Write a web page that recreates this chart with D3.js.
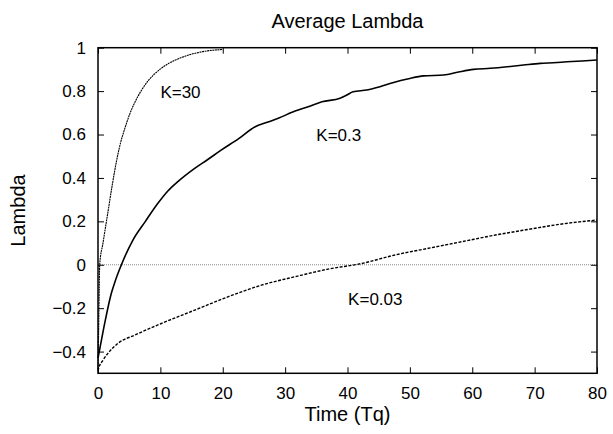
<!DOCTYPE html>
<html>
<head>
<meta charset="utf-8">
<script src="https://cdn.jsdelivr.net/npm/d3@7"></script>
<style>
  body { margin: 0; background: #fff; }
  text { font-family: "Liberation Sans", Arial, sans-serif; fill: #000; }
</style>
</head>
<body>
<svg id="chart"></svg>
<script>
// ---------------- data ----------------
const xTicks = [0, 10, 20, 30, 40, 50, 60, 70, 80];
const yTicks = [-0.4, -0.2, 0, 0.2, 0.4, 0.6, 0.8, 1];

// K=30 (fine dotted)
const k30_t = [0, 0.1, 0.2, 0.27, 0.8, 1.6, 2.3, 2.95, 3.6, 4.3, 5.1, 5.9, 7.0, 8.0, 9.1, 10.2, 11.3, 12.3, 13.5, 14.7, 16.0, 17.4, 18.7, 20];
const k30_l = [-0.48, -0.3, -0.1, 0, 0.1, 0.244, 0.37, 0.475, 0.56, 0.628, 0.695, 0.748, 0.805, 0.846, 0.88, 0.906, 0.927, 0.942, 0.956, 0.968, 0.977, 0.985, 0.989, 0.992];

// K=0.3 (solid)
const k03_t = [0, 0.27, 1.07, 2.15, 2.7, 3.75, 5.6, 7.6, 9.6, 11.2, 12.8, 15.5, 17.6, 19.8, 22.5, 25.2, 27.0, 28.9, 31.6, 33.7, 35.9, 38.8, 39.9, 40.9, 43.1, 45.2, 47.4, 49.8, 52.2, 55.4, 57.8, 60.2, 62.9, 65.6, 68.2, 70.9, 73.0, 75.2, 77.6, 80];
const k03_l = [-0.43, -0.39, -0.27, -0.13, -0.08, 0, 0.114, 0.2, 0.283, 0.34, 0.383, 0.444, 0.485, 0.529, 0.58, 0.636, 0.655, 0.675, 0.708, 0.728, 0.751, 0.767, 0.782, 0.797, 0.805, 0.82, 0.84, 0.857, 0.87, 0.874, 0.888, 0.9, 0.905, 0.912, 0.92, 0.928, 0.931, 0.935, 0.939, 0.943];

// K=0.03 (dashed)
const k003_t = [0, 0.1, 0.8, 1.6, 3.2, 5.9, 10.2, 15.5, 20.9, 26.2, 31.6, 36.9, 42.3, 47.6, 53.0, 58.3, 63.7, 69.0, 74.4, 80];
const k003_l = [-0.49, -0.478, -0.44, -0.408, -0.362, -0.324, -0.27, -0.209, -0.147, -0.094, -0.055, -0.02, 0.006, 0.045, 0.076, 0.106, 0.137, 0.163, 0.188, 0.206];

// ---------------- set up ----------------
const width = 613, height = 434;
const plotLeft = 98, plotRight = 597, plotTop = 47.7, plotBottom = 373.3;

const svg = d3.select("#chart")
  .attr("width", width)
  .attr("height", height);

const xScale = d3.scaleLinear().domain([0, 80]).range([plotLeft, plotRight]);
const yScale = d3.scaleLinear().domain([-0.5, 1]).range([plotBottom, plotTop]);

// zero line
svg.append("line")
  .attr("x1", xScale(0)).attr("x2", xScale(80))
  .attr("y1", yScale(0)).attr("y2", yScale(0))
  .attr("stroke", "#888")
  .attr("stroke-width", 1)
  .attr("stroke-dasharray", "1,1");

// axes, ticks pointing inwards on all four sides
const tickLen = 6;
svg.append("g")
  .attr("transform", "translate(0," + plotBottom + ")")
  .call(d3.axisBottom(xScale).tickValues(xTicks).tickSizeInner(-tickLen).tickSizeOuter(0).tickPadding(14))
  .call(g => g.select(".domain").remove());
svg.append("g")
  .attr("transform", "translate(0," + plotTop + ")")
  .call(d3.axisTop(xScale).tickValues(xTicks).tickSizeInner(-tickLen).tickSizeOuter(0).tickFormat(""))
  .call(g => g.select(".domain").remove());
svg.append("g")
  .attr("transform", "translate(" + plotLeft + ",0)")
  .call(d3.axisLeft(yScale).tickValues(yTicks).tickSizeInner(-tickLen).tickSizeOuter(0).tickPadding(12).tickFormat(d3.format("")))
  .call(g => g.select(".domain").remove());
svg.append("g")
  .attr("transform", "translate(" + plotRight + ",0)")
  .call(d3.axisRight(yScale).tickValues(yTicks).tickSizeInner(-tickLen).tickSizeOuter(0).tickFormat(""))
  .call(g => g.select(".domain").remove());

svg.selectAll(".tick line").attr("stroke", "#000").attr("stroke-width", 1);
svg.selectAll(".tick text").style("font-size", "17px").style("font-family", "Liberation Sans, Arial, sans-serif");

// frame
svg.append("rect")
  .attr("x", plotLeft).attr("y", plotTop)
  .attr("width", plotRight - plotLeft).attr("height", plotBottom - plotTop)
  .attr("fill", "none")
  .attr("stroke", "#000")
  .attr("stroke-width", 1.5);

// ---------------- curves ----------------
const line = d3.line().x(d => xScale(d[0])).y(d => yScale(d[1])).curve(d3.curveMonotoneX);

function drawCurve(ts, ls, strokeW, dash) {
  svg.append("path")
    .datum(ts.map((t, i) => [t, ls[i]]))
    .attr("d", line)
    .attr("fill", "none")
    .attr("stroke", "#000")
    .attr("stroke-width", strokeW)
    .attr("stroke-dasharray", dash);
}

drawCurve(k30_t, k30_l, 1.1, "2,0.6");
drawCurve(k03_t, k03_l, 1.6, null);
drawCurve(k003_t, k003_l, 1.4, "3,1.5");

// ---------------- labels ----------------
svg.append("text")
  .attr("x", xScale(10)).attr("y", yScale(0.77))
  .style("font-size", "17px")
  .text("K=30");
svg.append("text")
  .attr("x", xScale(35)).attr("y", yScale(0.571))
  .style("font-size", "17px")
  .text("K=0.3");
svg.append("text")
  .attr("x", xScale(40.1)).attr("y", yScale(-0.186))
  .style("font-size", "17px")
  .text("K=0.03");

svg.append("text")
  .attr("x", (plotLeft + plotRight) / 2).attr("y", 28)
  .attr("text-anchor", "middle")
  .style("font-size", "20px")
  .text("Average Lambda");

svg.append("text")
  .attr("x", (plotLeft + plotRight) / 2).attr("y", 421)
  .attr("text-anchor", "middle")
  .style("font-size", "20px")
  .text("Time (Tq)");

svg.append("text")
  .attr("transform", "translate(25," + ((plotTop + plotBottom) / 2) + ") rotate(-90)")
  .attr("text-anchor", "middle")
  .style("font-size", "20px")
  .text("Lambda");
</script>
</body>
</html>
